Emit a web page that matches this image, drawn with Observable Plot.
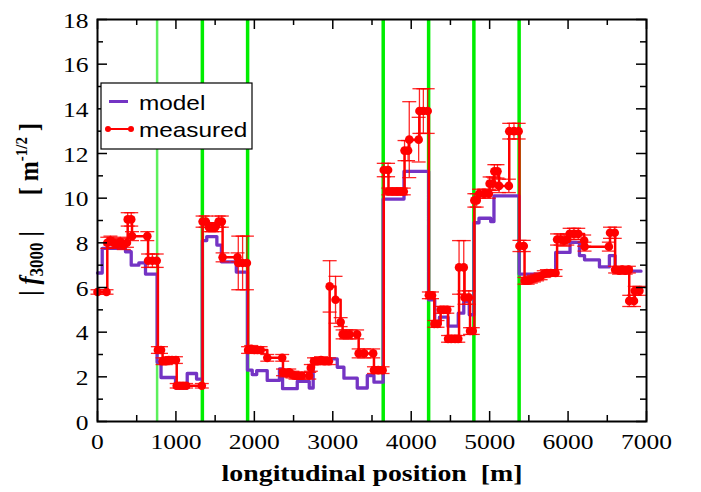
<!DOCTYPE html>
<html><head><meta charset="utf-8">
<script src="https://cdn.jsdelivr.net/npm/d3@7"></script>
<script src="https://cdn.jsdelivr.net/npm/@observablehq/plot@0.6"></script>
<style>body{margin:0;background:#fff}</style>
</head><body><div id="chart"></div>
<script>
// ---- data ----
const measuredX = [0,115,125,165,205,250,290,335,375,385,430,440,635,645,700,755,770,810,830,870,910,950,1000,1010,1050,1090,1130,1330,
 1340,1380,1420,1460,1500,1545,1585,1595,1785,1795,1850,1905,
 1920,1960,2000,2040,2080,2165,2355,2365,2405,2445,2485,2525,2565,2605,2700,2720,2760,2800,2850,2900,2950,2960,3035,3100,3125,3170,3215,3310,3330,3400,3515,3525,3580,3635,
 3650,3705,3710,3760,3815,3865,3905,3915,3960,3975,4095,4105,4155,4210,
 4225,4265,4295,4335,4375,4415,4460,4470,4510,4560,4600,4610,4670,4680,4735,4750,4785,
 4805,4835,4865,4930,4990,5000,5040,5060,5100,5120,5245,5250,5310,5370,
 5380,5435,5445,5485,5525,5565,5605,5650,5690,5730,5780,5840,5860,5905,5950,5990,6020,6075,6130,6205,6210,6520,6535,6595,6600,6650,6690,6735,6775,6780,6840,6850,6910];
const measuredY = [5.8,5.8,8.0,8.1,8.0,7.95,8.05,7.9,8.0,9.05,9.05,8.3,8.3,7.2,7.2,7.2,3.2,3.2,2.7,2.7,2.75,2.75,2.75,1.6,1.6,1.6,1.6,1.6,
 8.95,8.95,8.7,8.7,8.7,8.95,8.95,7.35,7.35,7.1,7.1,7.1,
 3.2,3.25,3.2,3.2,3.2,2.85,2.85,2.2,2.15,2.2,2.1,2.05,2.05,2.05,2.05,2.4,2.7,2.7,2.75,2.7,2.7,6.05,5.45,4.45,3.9,3.9,3.9,3.9,3.05,3.05,3.05,2.3,2.3,2.3,
 11.26,11.26,10.3,10.3,10.3,10.3,10.3,12.13,12.13,12.62,12.62,13.9,13.9,13.9,
 5.65,5.65,4.37,4.37,5.0,5.0,5.0,3.7,3.7,3.7,3.7,6.9,6.9,5.55,5.55,4.05,4.05,
 9.9,9.9,10.2,10.2,10.2,10.65,10.65,11.2,11.2,10.55,10.55,13.0,13.0,13.0,
 7.86,7.86,6.3,6.3,6.35,6.4,6.45,6.5,6.6,6.65,6.65,6.65,8.15,8.15,8.1,8.15,8.4,8.4,8.4,8.1,7.83,7.83,8.45,8.45,6.8,6.75,6.8,6.75,6.8,5.4,5.4,5.85,5.85];
const measuredErr = [0.1,0.1,0.25,0.2,0.2,0.2,0.2,0.2,0.2,0.3,0.3,0.2,0.2,0.3,0.3,0.3,0.15,0.15,0.15,0.15,0.15,0.15,0.15,0.1,0.1,0.1,0.1,0.1,
 0.25,0.25,0.2,0.2,0.2,0.25,0.25,0.2,0.2,1.2,1.2,1.2,
 0.15,0.15,0.15,0.15,0.15,0.15,0.15,0.15,0.15,0.15,0.15,0.15,0.15,0.15,0.15,0.15,0.15,0.15,0.15,0.15,0.15,1.15,1.05,0.2,0.2,0.2,0.2,0.2,0.2,0.2,0.2,0.15,0.15,0.15,
 0.3,0.3,0.15,0.15,0.15,0.15,0.15,0.45,0.45,1.7,1.0,1.0,1.0,1.0,
 0.15,0.15,0.15,0.15,0.15,0.15,0.15,0.15,0.15,0.15,0.15,1.2,1.2,0.3,0.3,0.15,0.15,
 0.3,0.3,0.2,0.2,0.2,0.3,0.3,0.3,0.3,0.3,0.3,0.35,0.35,0.35,
 0.25,0.25,0.15,0.15,0.15,0.15,0.15,0.15,0.15,0.15,0.15,0.15,0.25,0.25,0.25,0.25,0.25,0.25,0.25,0.25,0.2,0.2,0.25,0.25,0.15,0.15,0.15,0.15,0.15,0.25,0.25,0.2,0.2];

const modelX = [0,60,357,430,527,612,760,810,995,1144,1263,1337,1393,1522,1580,1770,1912,1973,2030,2164,2320,2360,2547,2700,2750,3057,3142,3312,3440,3525,3643,3908,4222,4300,4360,4470,4600,4670,4740,4800,4864,5013,5055,5376,5778,5842,6025,6145,6210,6400,6527,6600,6930];
const modelY = [6.65,7.75,7.6,7.0,7.1,6.6,2.65,1.97,1.5,2.15,1.9,8.1,8.28,7.9,7.15,6.69,2.3,2.1,2.28,1.84,2.35,1.47,1.8,1.5,2.8,2.43,1.94,1.5,2.06,1.76,9.96,11.2,5.45,4.4,4.67,4.27,4.85,5.38,4.78,8.9,9.1,8.95,10.1,6.6,6.7,7.57,8.02,7.43,7.24,6.92,7.43,6.73,6.73];

const markerPositions = [760,1337,1914,3643,4222,4799,5376];

const xMajor = [0,1000,2000,3000,4000,5000,6000,7000];
const xMinor = [500,1500,2500,3500,4500,5500,6500];
const yMajor = [0,2,4,6,8,10,12,14,16,18];
const yMinor = [1,3,5,7,9,11,13,15,17];

// ---- chart ----
const W = 701, H = 492, mL = 97, mR = 55, mT = 19, mB = 71;
const innerW = W - mL - mR, innerH = H - mT - mB;
const measured = measuredX.map((x, i) => ({x, y: measuredY[i], e: measuredErr[i]}));
const model = modelX.map((x, i) => ({x, y: modelY[i]}));
const capSymbol = {draw(ctx, size) { const w = Math.sqrt(size / Math.PI); ctx.moveTo(-w, 0); ctx.lineTo(w, 0); }};
const serif = "Liberation Serif, Times New Roman, serif";
const red = "#ff0000", purple = "#7434c4";

const chart = Plot.plot({
  width: W, height: H, marginLeft: mL, marginRight: mR, marginTop: mT, marginBottom: mB,
  x: {domain: [0, 7000], axis: null},
  y: {domain: [0, 18], axis: null},
  style: {background: "white"},
  marks: [
    Plot.ruleX(markerPositions.slice(0, 1), {x: d => d, stroke: "#5cf05c", strokeWidth: 2.5}),
    Plot.ruleX(markerPositions.slice(1), {x: d => d, stroke: "#00ee00", strokeWidth: 3.5}),
    Plot.line(model, {x: "x", y: "y", curve: "step-after", stroke: purple, strokeWidth: 3.3}),
    Plot.ruleX(measured, {x: "x", y1: d => d.y - d.e, y2: d => d.y + d.e, stroke: red, strokeWidth: 1.3, strokeOpacity: 0.85}),
    Plot.dot(measured, {x: "x", y: d => d.y + d.e, symbol: capSymbol, r: 7, stroke: red, strokeWidth: 1.3, strokeOpacity: 0.85}),
    Plot.dot(measured, {x: "x", y: d => d.y - d.e, symbol: capSymbol, r: 7, stroke: red, strokeWidth: 1.3, strokeOpacity: 0.85}),
    Plot.line(measured, {x: "x", y: "y", curve: "step-after", stroke: red, strokeWidth: 2.5}),
    Plot.dot(measured, {x: "x", y: "y", r: 4.3, fill: red, stroke: null}),
    // inward ticks
    Plot.tickX(xMajor, {x: d => d, insetTop: innerH - 10, stroke: "black", strokeWidth: 1.5}),
    Plot.tickX(xMinor, {x: d => d, insetTop: innerH - 6, stroke: "black", strokeWidth: 1.5}),
    Plot.tickX(xMajor, {x: d => d, insetBottom: innerH - 10, stroke: "black", strokeWidth: 1.5}),
    Plot.tickX(xMinor, {x: d => d, insetBottom: innerH - 6, stroke: "black", strokeWidth: 1.5}),
    Plot.tickY(yMajor, {y: d => d, insetRight: innerW - 10, stroke: "black", strokeWidth: 1.5}),
    Plot.tickY(yMinor, {y: d => d, insetRight: innerW - 6, stroke: "black", strokeWidth: 1.5}),
    Plot.tickY(yMajor, {y: d => d, insetLeft: innerW - 10, stroke: "black", strokeWidth: 1.5}),
    Plot.tickY(yMinor, {y: d => d, insetLeft: innerW - 6, stroke: "black", strokeWidth: 1.5}),
    Plot.frame({stroke: "black", strokeWidth: 2}),
    // tick labels
    Plot.text(xMajor, {x: d => d, frameAnchor: "bottom", dy: 27, lineAnchor: "bottom", text: d => String(d), fontSize: 22, fontFamily: serif, fill: "black"}),
    Plot.text(yMajor, {y: d => d, frameAnchor: "left", dx: -9, dy: 1, textAnchor: "end", lineAnchor: "middle", text: d => String(d), fontSize: 22, fontFamily: serif, fill: "black"}),
    Plot.text(["longitudinal position\u00a0\u00a0[m]"], {frameAnchor: "bottom", x: 3500, dy: 59, lineAnchor: "bottom", text: d => d, fontSize: 24, fontWeight: "bold", fontFamily: serif, fill: "black"})
  ]
});
document.getElementById("chart").appendChild(chart);

const svg = d3.select(chart);
// horizontal stretch of the original figure's lettering
svg.selectAll("text").each(function() {
  const tr = this.getAttribute("transform") || "";
  this.setAttribute("transform", tr + " scale(1.16,1)");
});

// y-axis title
const yt = svg.append("text")
  .attr("transform", "translate(37.5,123) scale(1.16,1) rotate(-90)")
  .attr("text-anchor", "end").attr("font-family", serif).attr("font-size", 24)
  .attr("font-weight", "bold").attr("fill", "black");
yt.append("tspan").text("|\u00a0");
yt.append("tspan").attr("font-style", "italic").text("f");
yt.append("tspan").attr("font-size", 17).attr("dy", 5).text("3000");
yt.append("tspan").attr("dy", -5).text("\u00a0|\u00a0\u00a0\u00a0\u00a0\u00a0\u00a0[\u00a0m");
yt.append("tspan").attr("font-size", 15).attr("dy", -9).text("-1/2");
yt.append("tspan").attr("dy", 9).text("\u00a0]");

// legend
const sans = "Liberation Sans, Arial, sans-serif";
const lg = svg.append("g").attr("text-anchor", "start");
lg.append("rect").attr("x", 101).attr("y", 83).attr("width", 151).attr("height", 66)
  .attr("fill", "white").attr("stroke", "black").attr("stroke-width", 1.2);
lg.append("line").attr("x1", 109).attr("x2", 128).attr("y1", 101.5).attr("y2", 101.5)
  .attr("stroke", purple).attr("stroke-width", 3);
lg.append("text").attr("transform", "translate(139,110) scale(1.16,1)").attr("text-anchor", "start")
  .attr("font-family", sans).attr("font-size", 21).attr("fill", "black").text("model");
lg.append("line").attr("x1", 108).attr("x2", 131).attr("y1", 129).attr("y2", 129)
  .attr("stroke", red).attr("stroke-width", 2);
[108, 131].forEach(cx => lg.append("circle").attr("cx", cx).attr("cy", 129).attr("r", 3).attr("fill", red));
lg.append("text").attr("transform", "translate(139,137) scale(1.16,1)").attr("text-anchor", "start")
  .attr("font-family", sans).attr("font-size", 21).attr("fill", "black").text("measured");
</script></body></html>
